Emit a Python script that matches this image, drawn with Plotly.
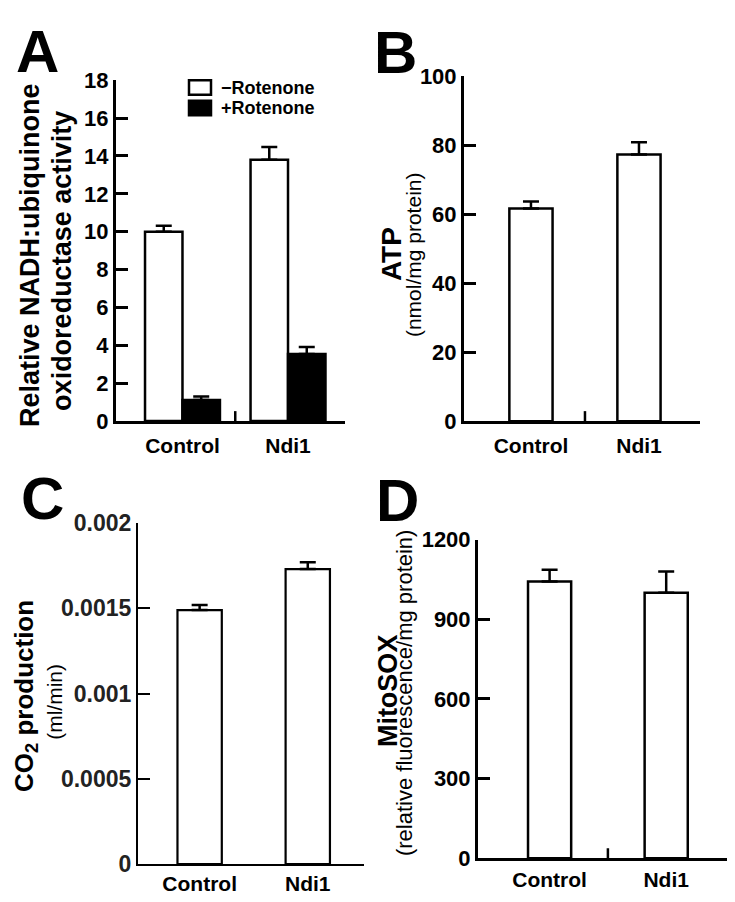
import plotly.graph_objects as go

W, H = 735, 902

# ---------------- data ----------------
groups = ["Control", "Ndi1"]

# Panel A: NADH:ubiquinone oxidoreductase activity
a_minus_rot = [10.0, 13.8]
a_minus_err = [0.32, 0.68]
a_plus_rot = [1.12, 3.55]
a_plus_err = [0.18, 0.36]
a_ticks = [0, 2, 4, 6, 8, 10, 12, 14, 16, 18]
a_series_names = ["\u2212Rotenone", "+Rotenone"]

# Panel B: ATP
b_vals = [61.7, 77.3]
b_err = [2.0, 3.6]
b_ticks = [0, 20, 40, 60, 80, 100]

# Panel C: CO2 production
c_vals = [0.00149, 0.00173]
c_err = [0.00003, 0.00004]
c_ticks = [0, 0.0005, 0.001, 0.0015, 0.002]
c_ticktext = ["0", "0.0005", "0.001", "0.0015", "0.002"]

# Panel D: MitoSOX
d_vals = [1042, 1000]
d_err = [44, 80]
d_ticks = [0, 300, 600, 900, 1200]

FONT = "Liberation Sans, Arial, sans-serif"


def fx(px):
    return px / W


def fy(py):
    return 1 - py / H


fig = go.Figure()


def bar(x, y, err, xa, ya, width, offset, fill, name=None, lw=2.5):
    fig.add_trace(go.Bar(
        x=x, y=y, xaxis=xa, yaxis=ya, width=width, offset=offset,
        name=name, showlegend=False,
        marker=dict(color=fill, line=dict(color="black", width=lw)),
        error_y=dict(type="data", symmetric=False, array=err,
                     arrayminus=[0] * len(err), color="black",
                     thickness=2.5, width=8),
    ))


# Panel A
bar(groups, a_minus_rot, a_minus_err, "x", "y", 0.355, -0.355, "white", a_series_names[0])
bar(groups, a_plus_rot, a_plus_err, "x", "y", 0.355, 0.0, "black", a_series_names[1])
# Panel B
bar(groups, b_vals, b_err, "x2", "y2", 0.40, -0.20, "white")
# Panel C
bar(groups, c_vals, c_err, "x3", "y3", 0.41, -0.205, "white", lw=2.2)
# Panel D
bar(groups, d_vals, d_err, "x4", "y4", 0.37, -0.185, "white")

panels = {
    # suffix: (x domain px, y domain px (top,bottom), x range, y range, ticks, ticktext, line width, tick size, label standoff)
    "": ((108, 337), (61, 412), [-0.63, 1.54], [0, 18], a_ticks, [str(t) for t in a_ticks], 3, 22, 4),
    "2": ((456, 692), (57, 412), [-0.62, 1.565], [0, 100], b_ticks, [str(t) for t in b_ticks], 3, 22, 4),
    "3": ((130, 356), (517, 868), [-0.57, 1.52], [0, 0.002], c_ticks, c_ticktext, 2.2, 23, 0),
    "4": ((470, 727), (534, 862), [-0.614, 1.59], [0, 1200], d_ticks, [str(t) for t in d_ticks], 3, 22, 1),
}

layout = dict(
    width=W, height=H, margin=dict(l=0, r=0, t=0, b=0),
    paper_bgcolor="white", plot_bgcolor="white",
    barmode="overlay",
    font=dict(family=FONT, color="black"),
    showlegend=False,
)

for suf, (xd, yd, xr, yr, tv, tt, lw, tsz, stand) in panels.items():
    tick_color = "#222" if suf == "3" else "black"
    layout["xaxis" + suf] = dict(
        domain=[fx(xd[0]), fx(xd[1])], range=xr, type="category",
        anchor="y" + suf, showline=True, linecolor="black", linewidth=lw,
        showgrid=False, zeroline=False, ticks="",
        ticklabelstandoff=stand,
        tickfont=dict(size=21, weight="bold", family=FONT),
        fixedrange=True,
    )
    layout["yaxis" + suf] = dict(
        domain=[fy(yd[1]), fy(yd[0])], range=yr,
        anchor="x" + suf, showline=True, linecolor="black", linewidth=lw,
        showgrid=False, zeroline=False,
        ticks="inside", ticklen=12, tickwidth=lw, tickcolor="black",
        tickvals=tv, ticktext=tt,
        tickfont=dict(size=tsz, weight="bold", family=FONT, color=tick_color),
        fixedrange=True,
    )

fig.update_layout(**layout)

# mid-axis tick between the two groups
for suf, up in (("", 10), ("2", 10), ("3", -4), ("4", 10)):
    fig.add_shape(type="line", xref="x" + suf, yref="y" + suf,
                  x0=0.5, x1=0.5, ysizemode="pixel", yanchor=0, y0=0, y1=up,
                  line=dict(color="black", width=2.5))

# legend swatches for panel A
for (top, bot), fill in (((61, 76), "white"), ((82, 97), "black")):
    fig.add_shape(type="rect", xref="paper", yref="paper",
                  x0=fx(181), x1=fx(203), y0=fy(bot), y1=fy(top),
                  fillcolor=fill, line=dict(color="black", width=2.5))

annotations = []


def ann(text, px, py, size, bold=True, angle=0, xanchor="center"):
    annotations.append(dict(
        text=text, x=fx(px), y=fy(py), xref="paper", yref="paper",
        xanchor=xanchor, yanchor="middle", showarrow=False, textangle=angle,
        font=dict(size=size, family=FONT, color="black",
                  weight="bold" if bold else "normal"),
    ))


# legend labels
ann(a_series_names[0], 211, 69, 18, xanchor="left")
ann(a_series_names[1], 211, 90, 18, xanchor="left")

# panel letters
ann("A", 30, 31, 60)
ann("B", 387, 32, 60)
ann("C", 34, 492, 60)
ann("D", 389, 494, 60)

# y-axis titles
ann("Relative NADH:ubiquinone", 22, 241, 27, angle=-90)
ann("oxidoreductase activity", 54, 247, 27, angle=-90)
ann("ATP", 383, 240, 28, angle=-90)
ann("(nmol/mg protein)", 405, 240, 21, bold=False, angle=-90)
ann("CO<sub>2</sub> production", 18, 695, 26, angle=-90)
ann("(ml/min)", 47, 701, 21, bold=False, angle=-90)
ann("MitoSOX", 380, 690, 27, angle=-90)
ann("(relative fluorescence/mg protein)", 396, 692, 22, bold=False, angle=-90)

fig.update_layout(annotations=annotations)

fig.write_html("out.html")
